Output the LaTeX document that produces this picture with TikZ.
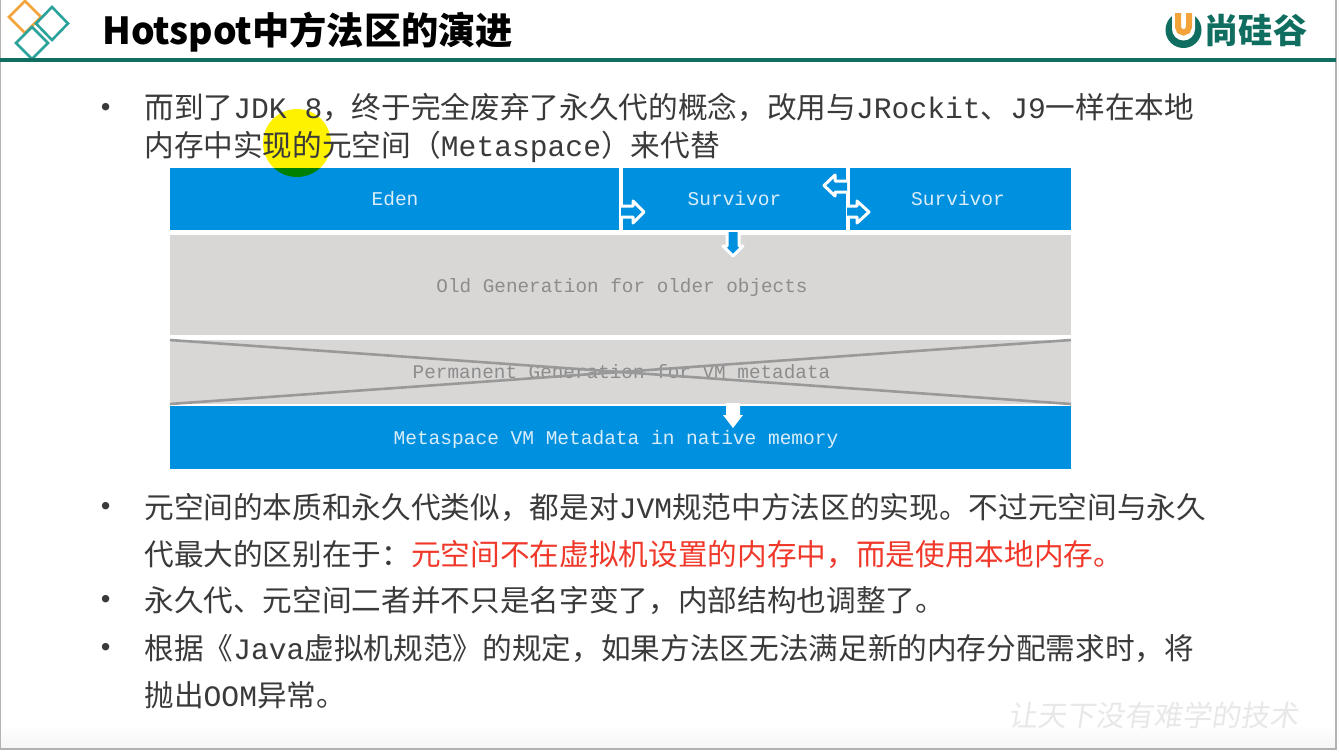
\documentclass[tikz,border=0pt]{standalone}
\usepackage{fontspec}
\setmainfont{Noto Sans CJK SC}
\newfontfamily\latfont{Liberation Mono}
\newcommand{\la}[1]{{\latfont #1}}
\newcommand{\qcomma}{\symbol{"FF0C}}
\newcommand{\qcolon}{\symbol{"FF1A}}
\newcommand{\qopen}{\symbol{"FF08}}
\newcommand{\qclose}{\symbol{"FF09}}
\definecolor{railgreen}{HTML}{0F6E5F}
\definecolor{diateal}{HTML}{2BA39B}
\definecolor{diaorange}{HTML}{F2A33A}
\definecolor{blockblue}{HTML}{0090E0}
\definecolor{blockgray}{HTML}{D9D7D6}
\definecolor{bodyink}{HTML}{3A3A3A}
\definecolor{redink}{HTML}{F0392B}
\tikzset{
	bodyline/.style={anchor=base west, inner sep=0pt, text=bodyink, font=\fontsize{16.88}{20}\selectfont},
	dotmark/.style={anchor=center, inner sep=0pt, text=bodyink, font=\fontsize{20}{22}\selectfont},
	blueblock/.style={fill=blockblue, inner sep=0pt},
	grayblock/.style={fill=blockgray, inner sep=0pt},
	bluelabel/.style={inner sep=0pt, text=white!85!blockblue, font=\latfont\fontsize{11.1}{13}\selectfont},
	graylabel/.style={inner sep=0pt, text=black!45, font=\latfont\fontsize{11}{13}\selectfont},
	diamondline/.style={line width=2.6*0.569pt},
	gapline/.style={draw=white, line width=3*0.569pt},
	blockarrow/.style={fill=blockblue, draw=white, line width=3*0.569pt, line join=round}
}

\begin{document}
\begin{tikzpicture}[x=0.02cm, y=-0.02cm]
		\useasboundingbox (0, 0) rectangle (1339, 751);
		%%%%% PAGE %%%%%
		\fill[white] (0, 0) rectangle (1339, 751);
		\shade[top color=white, bottom color=black!4] (0, 725) rectangle (1336, 749);
		\draw[black!30, line width=1.1pt] (0.5, 0) -- (0.5, 749) -- (1336, 749) -- (1336, 0);
		
		%%%%% TITLE BAR %%%%%
		\draw[diaorange, diamondline] (25, 1) -- (41, 17) -- (25, 33) -- (9, 17) -- cycle;
		\draw[diateal, diamondline] (52, 7) -- (68, 23.5) -- (52, 40) -- (36, 23.5) -- cycle;
		\draw[diateal, diamondline] (32, 27) -- (48, 43) -- (32, 59) -- (16, 43) -- cycle;
		\node[anchor=base west, inner sep=0pt, font=\fontsize{21.2}{25}\bfseries\selectfont] (title) at (102, 44) {Hotspot中方法区的演进};
		\draw[railgreen, line width=4*0.569pt] (0, 60) -- (1336, 60);
		
		\fill[railgreen] (1183.5, 30) circle (18);
		\fill[white] (1172, 10) -- (1172, 29) arc (180:0:11.5) -- (1195, 10) -- cycle;
		\draw[diaorange, line width=3.4pt] (1178, 13) -- (1178, 27) arc (180:0:5.5) -- (1189, 13);
		\node[anchor=center, inner sep=0pt, text=railgreen, font=\fontsize{19.5}{22}\bfseries\selectfont] (brand) at (1256, 30) {尚硅谷};
		
		%%%%% POINTER %%%%%
		\fill[yellow] (297, 143) circle (34);
		
		%%%%% FIRST POINT %%%%%
		\node[dotmark] (dota) at (106, 112) {•};
		\node[bodyline] (linea) at (144, 118) {而到了\la{JDK 8}\qcomma 终于完全废弃了永久代的概念\qcomma 改用与\la{JRockit}、\la{J9}一样在本地};
		\node[bodyline] (lineb) at (144, 156) {内存中实现的元空间\qopen\la{Metaspace}\qclose 来代替};
		
		%%%%% MEMORY LAYOUT %%%%%
		\node[blueblock, minimum width=8.98cm, minimum height=1.26cm] (eden) at (394.5, 199) {};
		\node[blueblock, minimum width=4.46cm, minimum height=1.26cm] (survivora) at (734.5, 199) {};
		\node[blueblock, minimum width=4.42cm, minimum height=1.26cm] (survivorb) at (960.5, 199) {};
		\node[grayblock, minimum width=18.02cm, minimum height=2.02cm] (old) at (620.5, 285) {};
		\node[grayblock, minimum width=18.02cm, minimum height=1.28cm] (perm) at (620.5, 372) {};
		\node[blueblock, minimum width=18.04cm, minimum height=1.26cm] (meta) at (620.5, 437.5) {};
		
		\begin{scope}
			\clip (170, 168) rectangle (620, 230);
			\fill[green!50!black] (297, 143) circle (34);
		\end{scope}
		
		\node[bluelabel] (edentext) at (395, 199) {Eden};
		\node[bluelabel] (survivoratext) at (734.5, 199) {Survivor};
		\node[bluelabel] (survivorbtext) at (958, 199) {Survivor};
		\node[graylabel] (oldtext) at (622, 287) {Old Generation for older objects};
		\node[graylabel] (permtext) at (621.5, 372) {Permanent Generation for VM metadata};
		\node[bluelabel] (metatext) at (616, 439) {Metaspace VM Metadata in native memory};
		
		%%%%% ARROWS %%%%%
		\draw[gapline] (621, 167) -- (621, 206);
		\draw[gapline] (621, 217) -- (621, 231);
		\draw[blockarrow] (621, 206) -- (633, 206) -- (633, 201) -- (644, 212) -- (633, 223) -- (633, 217) -- (621, 217);
		
		\draw[gapline] (847, 167) -- (847, 181);
		\draw[gapline] (847, 192) -- (847, 206);
		\draw[gapline] (847, 217) -- (847, 231);
		\draw[blockarrow] (847, 181) -- (835, 181) -- (835, 175) -- (824, 185.5) -- (835, 196) -- (835, 192) -- (847, 192);
		\draw[blockarrow] (847, 206) -- (857, 206) -- (857, 201) -- (869, 212) -- (857, 223) -- (857, 217) -- (847, 217);
		
		\draw[blockarrow] (727, 232) -- (727, 246) -- (723, 246) -- (733, 256) -- (743, 246) -- (739, 246) -- (739, 232);
		\fill[white] (726, 403) -- (740, 403) -- (740, 415) -- (743, 415) -- (733, 428) -- (723, 415) -- (726, 415) -- cycle;
		
		%%%%% CROSSED OUT %%%%%
		\draw[black!40, line width=2.6*0.569pt] (170, 340) -- (1071, 404);
		\draw[black!40, line width=2.6*0.569pt] (170, 404) -- (1071, 340);
		
		%%%%% OTHER POINTS %%%%%
		\node[dotmark] (dotb) at (106, 511) {•};
		\node[bodyline] (linec) at (144, 518) {元空间的本质和永久代类似\qcomma 都是对\la{JVM}规范中方法区的实现。不过元空间与永久};
		\node[bodyline] (lined) at (144, 565) {代最大的区别在于\qcolon\textcolor{redink}{元空间不在虚拟机设置的内存中\qcomma 而是使用本地内存。}};
		\node[dotmark] (dotc) at (106, 604) {•};
		\node[bodyline] (linee) at (144, 611) {永久代、元空间二者并不只是名字变了\qcomma 内部结构也调整了。};
		\node[dotmark] (dotd) at (106, 652) {•};
		\node[bodyline] (linef) at (144, 659) {根据《\la{Java}虚拟机规范》的规定\qcomma 如果方法区无法满足新的内存分配需求时\qcomma 将};
		\node[bodyline] (lineg) at (144, 706) {抛出\la{OOM}异常。};
		
		%%%%% WATERMARK %%%%%
		\node[inner sep=0pt, text=black!9, xslant=0.15, font=\fontsize{16.5}{20}\selectfont] (mark) at (1155, 715) {让天下没有难学的技术};
		
		%%%%% END %%%%%
	\end{tikzpicture}
\end{document}
